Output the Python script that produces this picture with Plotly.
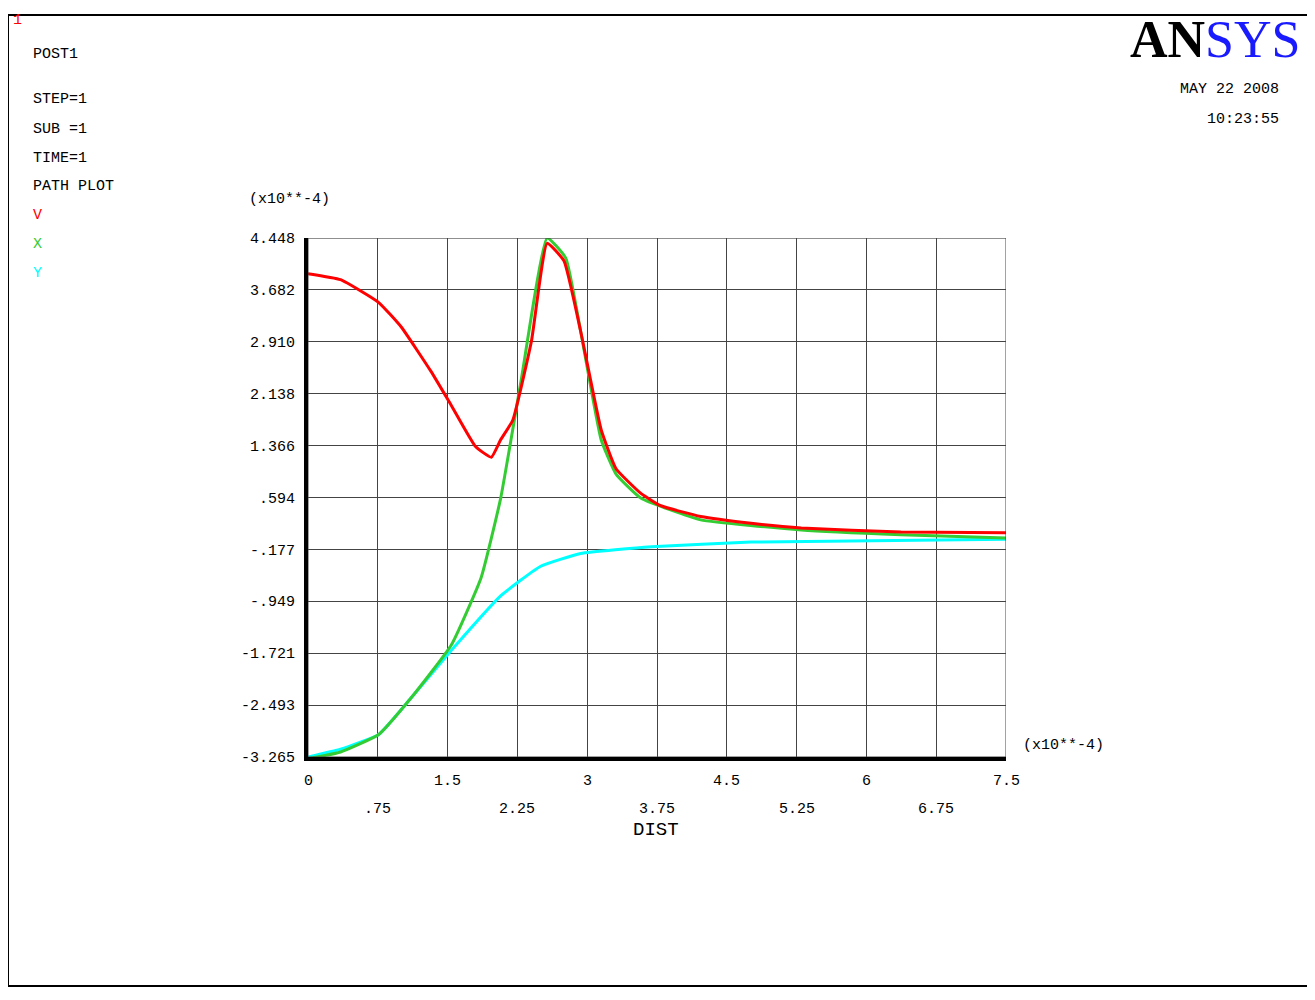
import plotly.graph_objects as go

W, H = 1300, 988

# data (DIST and values both x10**-4)
v_dist = [0, 0.35, 0.76, 1.0, 1.32, 1.54, 1.8, 1.97, 2.07, 2.2, 2.4, 2.57, 2.75, 2.93, 3.15, 3.31, 3.58, 3.79, 4.22, 4.76, 5.3, 6.37, 7.5]
v_val = [3.92, 3.83, 3.49, 3.13, 2.47, 1.96, 1.35, 1.19, 1.45, 1.74, 2.91, 4.37, 4.11, 3.06, 1.6, 1.02, 0.65, 0.47, 0.31, 0.21, 0.14, 0.08, 0.07]
x_dist = [0, 0.35, 0.76, 1.1, 1.54, 1.86, 2.07, 2.29, 2.57, 2.77, 2.93, 3.15, 3.31, 3.58, 4.22, 5.3, 6.37, 7.5]
x_val = [-3.29, -3.19, -2.93, -2.4, -1.6, -0.6, 0.58, 2.33, 4.45, 4.15, 3.06, 1.45, 0.94, 0.58, 0.26, 0.11, 0.04, -0.01]
y_dist = [0, 0.35, 0.76, 1.1, 1.54, 2.07, 2.5, 2.93, 3.69, 4.76, 7.5]
y_val = [-3.265, -3.15, -2.93, -2.4, -1.68, -0.87, -0.43, -0.24, -0.14, -0.07, -0.03]

y_ticks = [4.448, 3.682, 2.910, 2.138, 1.366, 0.594, -0.177, -0.949, -1.721, -2.493, -3.265]
y_labels = ['4.448', '3.682', '2.910', '2.138', '1.366', '.594', '-.177', '-.949', '-1.721', '-2.493', '-3.265']
x_ticks = [0, 0.75, 1.5, 2.25, 3, 3.75, 4.5, 5.25, 6, 6.75, 7.5]
x_labels = ['0', '.75', '1.5', '2.25', '3', '3.75', '4.5', '5.25', '6', '6.75', '7.5']

MONO = 'Liberation Mono'
# page offset (browser body margin) compensated by shifting pixel positions
OX, OY = 7, 8


def px(x):
    return (x - OX) / W


def py(y):
    return 1 - (y - OY) / H


fig = go.Figure()
for xs, ys, col in [(y_dist, y_val, '#00ffff'), (x_dist, x_val, '#33cc33'), (v_dist, v_val, '#ff0000')]:
    fig.add_trace(go.Scatter(x=xs, y=ys, mode='lines', line=dict(color=col, width=3, shape='spline', smoothing=0.4)))

fig.update_layout(
    width=W, height=H, margin=dict(l=0, r=0, t=0, b=0),
    paper_bgcolor='white', plot_bgcolor='white', showlegend=False,
    font=dict(family=MONO, color='black', size=15),
    xaxis=dict(domain=[px(307), px(1005)], range=[0, 7.5], tickvals=x_ticks, showticklabels=False,
               showgrid=True, gridcolor='#444', gridwidth=1, zeroline=False,
               showline=True, linecolor='black', linewidth=4),
    yaxis=dict(domain=[py(763), py(235)], range=[-3.265, 4.448], tickvals=y_ticks, ticktext=y_labels,
               showgrid=True, gridcolor='#444', gridwidth=1, zeroline=False,
               showline=True, linecolor='black', linewidth=4, ticks='', ticklabelstandoff=6),
)
fig.add_shape(type='rect', xref='x', yref='y', x0=0, x1=7.5, y0=-3.265, y1=4.448, line=dict(color='#444', width=1))
fig.add_shape(type='rect', xref='paper', yref='paper', x0=0.0, x1=1.0, y0=0.0, y1=1.0, line=dict(color='black', width=2))

for i, (tv, tl) in enumerate(zip(x_ticks, x_labels)):
    fig.add_annotation(x=tv, y=-3.265, xref='x', yref='y', text=tl, showarrow=False,
                       yanchor='top', yshift=-14 if i % 2 == 0 else -42)

texts = [
    (10, 14, '<span style="color:red">1</span>'),
    (30, 48, 'POST1'),
    (30, 94, 'STEP=1'),
    (30, 124, 'SUB =1'),
    (30, 154, 'TIME=1'),
    (30, 183, 'PATH PLOT'),
    (30, 212, '<span style="color:red">V</span>'),
    (30, 242, '<span style="color:#33cc33">X</span>'),
    (30, 271, '<span style="color:#00ffff">Y</span>'),
    (246, 196, '(x10**-4)'),
    (1020, 751, '(x10**-4)'),
]
for x0, y0, t in texts:
    fig.add_annotation(x=px(x0), y=py(y0), xref='paper', yref='paper', text=t, showarrow=False,
                       xanchor='left', yanchor='middle')
fig.add_annotation(x=px(655), y=py(850), xref='paper', yref='paper', text='DIST', showarrow=False,
                   font=dict(size=19))
fig.add_annotation(x=px(1280), y=py(84), xref='paper', yref='paper', text='MAY 22 2008', showarrow=False,
                   xanchor='right', yanchor='middle')
fig.add_annotation(x=px(1280), y=py(114), xref='paper', yref='paper', text='10:23:55', showarrow=False,
                   xanchor='right', yanchor='middle')
fig.add_annotation(x=px(1302), y=py(33), xref='paper', yref='paper', showarrow=False,
                   xanchor='right', yanchor='middle',
                   text='<b>AN</b><span style="color:#1a1aff">SYS</span>',
                   font=dict(family='Liberation Serif', size=52, color='black'))

fig.write_html("out.html")
